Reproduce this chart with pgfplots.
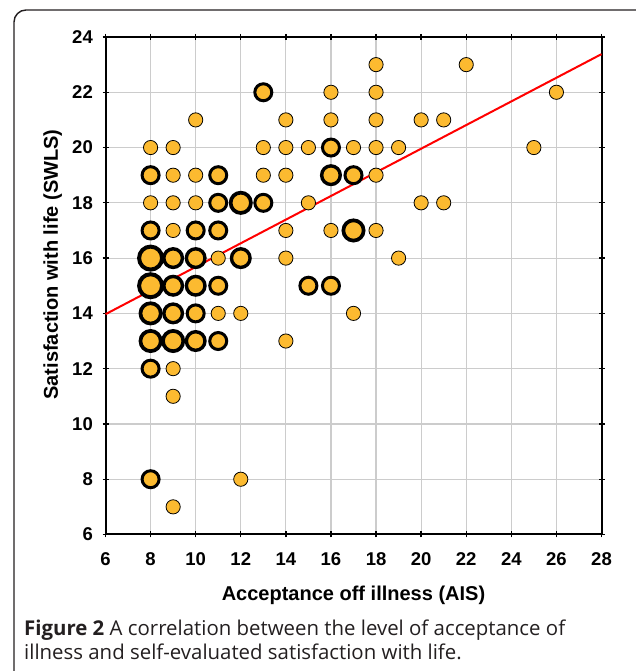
\documentclass[border=0pt]{standalone}
\usepackage{pgfplots}
\pgfplotsset{compat=1.18}
\usepackage{fontspec}
\setmainfont{Liberation Sans}
\newfontfamily\capfont{Open Sans}
\definecolor{dotfill}{RGB}{252,186,48}
\definecolor{gridgray}{RGB}{204,204,204}
\definecolor{captext}{RGB}{35,31,32}

\begin{document}
\begin{tikzpicture}[x=1pt,y=1pt]
\useasboundingbox (0,0) rectangle (635,671);
% panel frame (only top and left edges are visible)
\draw[line width=1.4pt, captext, rounded corners=12pt] (14,-30) -- (14,661) -- (680,661);

\begin{axis}[
  at={(105.5pt,136.5pt)}, anchor=south west,
  width=496pt, height=497.5pt, scale only axis,
  xmin=6, xmax=28, ymin=6, ymax=24,
  xtick={6,8,...,28}, ytick={6,8,...,24},
  grid=major, grid style={gridgray, line width=1.2pt},
  axis line style={line width=2pt},
  tick style={black, line width=1.3pt},
  major tick length=6pt, tick align=center,
  ticklabel style={font=\fontsize{18.5}{20}\selectfont\bfseries},
  /pgf/number format/assume math mode=true,
  xticklabel style={anchor=base, inner sep=0pt, yshift=-28pt},
  yticklabel style={anchor=east, inner sep=0pt, xshift=-9.5pt},
  xlabel={Acceptance off illness (AIS)},
  ylabel={Satisfaction with life (SWLS)},
  label style={font=\fontsize{20}{22}\selectfont\bfseries},
  xlabel style={at={(axis description cs:0.5,-0.1327)}, anchor=base},
  ylabel style={at={(axis description cs:-0.0958,0.5427)}, anchor=base, rotate=0},
  clip=false,
]
% n = 1
\addplot[only marks, mark=*, mark size=7.1pt,
  mark options={draw=black, fill=dotfill, line width=0.8pt}]
coordinates {
  (18,23) (22,23)
  (16,22) (18,22) (26,22)
  (10,21) (14,21) (16,21) (18,21) (20,21) (21,21)
  (8,20) (9,20) (13,20) (14,20) (15,20) (17,20) (18,20) (19,20) (25,20)
  (9,19) (10,19) (13,19) (14,19) (18,19)
  (8,18) (9,18) (10,18) (15,18) (20,18) (21,18)
  (9,17) (14,17) (16,17) (18,17)
  (11,16) (14,16) (19,16)
  (11,14) (12,14) (17,14)
  (14,13)
  (9,12)
  (9,11)
  (12,8)
  (9,7)
};
% n = 2
\addplot[only marks, mark=*, mark size=8.5pt,
  mark options={draw=black, fill=dotfill, line width=3pt}]
coordinates {
  (13,22) (16,20) (8,19) (11,19) (17,19) (11,18) (13,18)
  (8,17) (10,17) (11,17) (11,15) (15,15) (16,15)
  (10,14) (11,13) (8,12) (8,8)
};
% n = 3
\addplot[only marks, mark=*, mark size=9.3pt,
  mark options={draw=black, fill=dotfill, line width=3.4pt}]
coordinates {
  (16,19) (9,16) (10,16) (12,16) (9,15) (10,15) (9,14) (10,13)
};
% n = 4
\addplot[only marks, mark=*, mark size=10.15pt,
  mark options={draw=black, fill=dotfill, line width=3.7pt}]
coordinates {
  (12,18) (17,17) (8,14) (8,13) (9,13)
};
% n = 5
\addplot[only marks, mark=*, mark size=11.5pt,
  mark options={draw=black, fill=dotfill, line width=4pt}]
coordinates {
  (8,16) (8,15)
};
% fitted line
\addplot[red, line width=2pt] coordinates {(6,13.97) (28,23.38)};
\end{axis}

\node[anchor=base west, inner sep=0pt, align=left, captext,
  font=\capfont\fontsize{20.4}{25}\selectfont] at (24,11)
  {\textbf{Figure 2} A correlation between the level of acceptance of\\
   illness and self-evaluated satisfaction with life.};
\end{tikzpicture}
\end{document}
